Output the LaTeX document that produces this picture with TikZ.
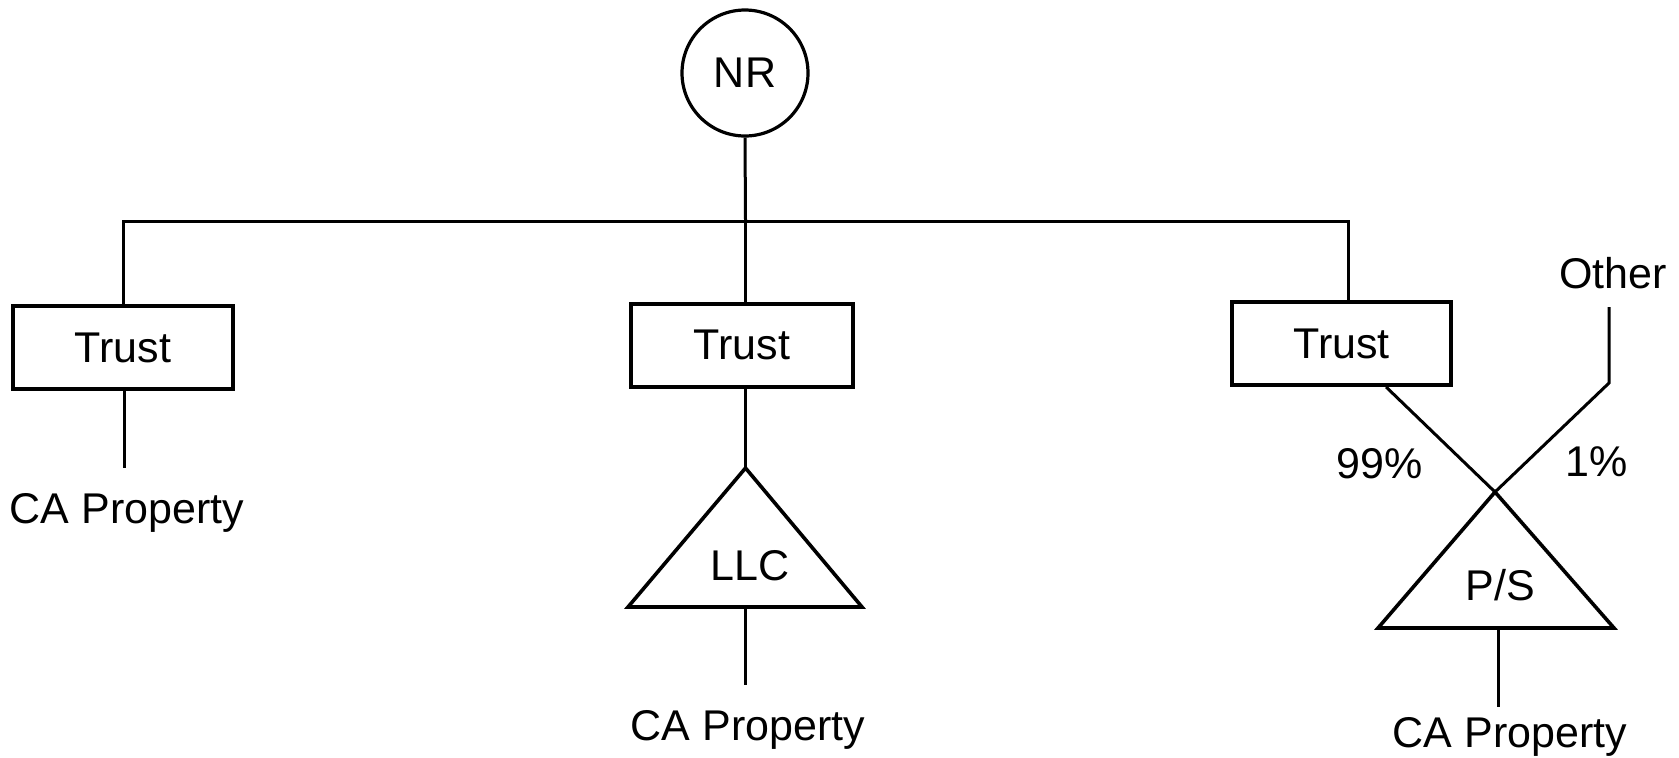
\documentclass[tikz,border=0pt]{standalone}
\usepackage{fontspec}
\setmainfont{Liberation Sans}
\usetikzlibrary{calc}
\begin{document}
\begin{tikzpicture}[x=0.5pt,y=-0.5pt,
  every node/.style={font=\fontsize{21.5}{24}\selectfont, inner sep=0pt},
  link/.style={line width=1.5pt},
  trustbox/.style={draw, rectangle, line width=2pt, minimum width=110pt, minimum height=41.5pt},
  owner/.style={draw, circle, line width=1.6pt, minimum size=63pt},
  entity/.style={line width=1.8pt, line join=miter},
  txt/.style={anchor=base}
]
\useasboundingbox (0,0) rectangle (1679,757);

% owner and the three trusts
\node[owner] (nr) at (745,73) {NR};
\node[trustbox] (t1) at (123,347.5) {Trust};
\node[trustbox, minimum width=111pt] (t2) at (742,345) {Trust};
\node[trustbox, minimum width=109.5pt] (t3) at (1341.5,343.5) {Trust};

% distribution bar
\coordinate (bar)  at (745.5,221);
\coordinate (barL) at (123,221);
\coordinate (barR) at (1348,221);
\draw[link] (nr.south) -- (bar);
\draw[link] (t1.north) -- (barL) -- (barR) -- (t3.north -| barR);
\draw[link] (bar) -- (bar |- t2.north);

% left branch: property held directly
\coordinate (p1top) at (124,468);
\draw[link] (t1.south -| p1top) -- (p1top);
\node[txt] (p1) at (127,523) {CA Property};

% middle branch: property held through an LLC
\coordinate (llcA) at (745.5,468);
\coordinate (llcL) at (628,607);
\coordinate (llcR) at (862,607);
\draw[entity] (llcA) -- (llcL) -- (llcR) -- cycle;
\node[txt] (llc) at (750,580) {LLC};
\draw[link] (bar |- t2.south) -- (llcA);
\coordinate (llcB) at (745.5,607);
\coordinate (p2top) at (745.5,685);
\draw[link] (llcB) -- (p2top);
\node[txt] (p2) at (748,740) {CA Property};

% right branch: property held through a partnership
\coordinate (psA) at (1495,492);
\coordinate (psL) at (1378,628);
\coordinate (psR) at (1614,628);
\draw[entity] (psA) -- (psL) -- (psR) -- cycle;
\node[txt] (ps) at (1500,600) {P/S};

\coordinate (t3foot) at ($(t3.south west)!0.70!(t3.south east)$);
\draw[link] (t3foot) -- (psA);
\node (other) at (1613,273) {Other};
\coordinate (othA) at (1609,307);
\coordinate (othB) at (1609,383);
\draw[link] (othA) -- (othB) -- (psA);
\node (pc99) at (1380,464) {99\%};
\node (pc1) at (1597,462) {1\%};

\coordinate (psB) at (1498,628);
\coordinate (p3top) at (1498,707);
\draw[link] (psB) -- (p3top);
\node[txt] (p3) at (1510,747) {CA Property};
\end{tikzpicture}
\end{document}
